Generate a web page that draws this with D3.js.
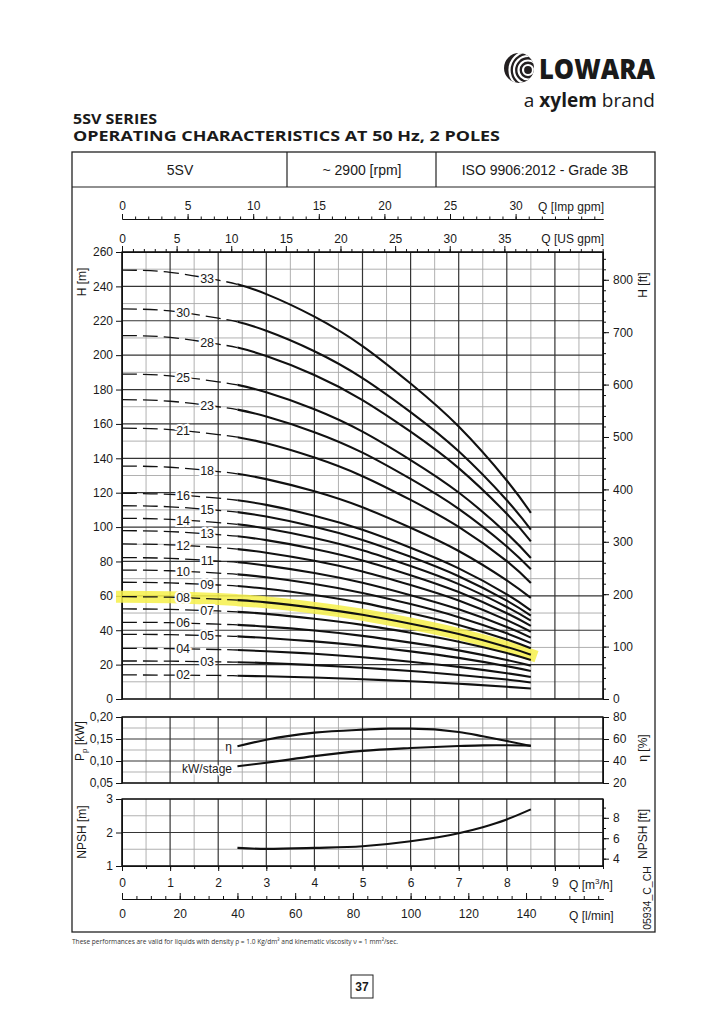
<!DOCTYPE html>
<html><head><meta charset="utf-8">
<script src="https://cdn.jsdelivr.net/npm/d3@7"></script>
<style>
body{margin:0;background:#fff}
svg text{font-family:"Liberation Sans",Arial,Helvetica,sans-serif;fill:#1a1a1a}
</style>
</head><body>
<svg id="c" width="724" height="1024"></svg>
<script>
// ---------------- DATA ----------------
const qPoints = [0, 1, 2, 2.4, 3, 4, 5, 6, 7, 8, 8.5];           // Q [m3/h]
const solidFromQ = 2.4;                                            // dashed below, solid above
const stageLabels = ["33","30","28","25","23","21","18","16","15","14","13","12","11","10","09","08","07","06","05","04","03","02"];
const headValues = [
  [249.5, 248.2, 243.6, 241.2, 235.5, 222.4, 205.3, 183.5, 158.5, 127.1, 108.3],
  [226.9, 225.7, 221.5, 219.4, 214.2, 202.3, 186.7, 166.9, 144.1, 115.6, 98.5],
  [211.4, 210.3, 206.4, 204.4, 199.5, 188.5, 173.9, 155.5, 134.3, 107.7, 91.7],
  [189.0, 188.0, 184.5, 182.7, 178.4, 168.5, 155.5, 139.0, 120.1, 96.3, 82.0],
  [174.1, 173.2, 170.0, 168.3, 164.3, 155.2, 143.3, 128.0, 110.6, 88.7, 75.5],
  [157.5, 156.7, 153.8, 152.3, 148.7, 140.4, 129.6, 115.8, 100.1, 80.2, 67.5],
  [135.5, 134.8, 132.3, 131.0, 127.9, 120.8, 111.5, 99.6, 86.1, 69.0, 58.8],
  [119.6, 119.0, 116.8, 115.6, 112.9, 106.6, 98.4, 88.0, 76.0, 60.9, 51.5],
  [112.4, 111.8, 109.7, 108.7, 106.1, 100.2, 92.5, 82.7, 71.4, 57.2, 48.5],
  [105.1, 104.5, 102.6, 101.6, 99.2, 93.7, 86.5, 77.3, 66.8, 53.5, 45.6],
  [97.9, 97.4, 95.6, 94.7, 92.4, 87.3, 80.6, 72.0, 62.2, 49.9, 42.5],
  [90.2, 89.7, 88.1, 87.2, 85.1, 80.4, 74.2, 66.3, 57.3, 45.9, 39.1],
  [82.2, 81.8, 80.2, 79.5, 77.6, 73.3, 67.6, 60.4, 52.2, 41.9, 35.7],
  [75.0, 74.6, 73.2, 72.5, 70.8, 66.9, 61.7, 55.2, 47.6, 38.2, 32.5],
  [67.9, 67.5, 66.3, 65.7, 64.1, 60.5, 55.9, 49.9, 43.1, 34.6, 29.5],
  [59.5, 59.2, 58.1, 57.5, 56.2, 53.0, 49.0, 43.8, 37.8, 30.3, 25.8],
  [52.4, 52.1, 51.2, 50.7, 49.5, 46.7, 43.1, 38.5, 33.3, 26.7, 22.7],
  [44.6, 44.4, 43.5, 43.1, 42.1, 39.8, 36.7, 32.8, 28.3, 22.7, 19.4],
  [37.6, 37.4, 36.7, 36.4, 35.5, 33.5, 30.9, 27.7, 23.9, 19.1, 16.3],
  [29.5, 29.3, 28.8, 28.5, 27.8, 26.3, 24.3, 21.7, 18.7, 15.0, 12.8],
  [22.1, 22.0, 21.6, 21.4, 20.9, 19.7, 18.2, 16.3, 14.0, 11.3, 9.6],
  [14.0, 13.9, 13.7, 13.5, 13.2, 12.5, 11.5, 10.3, 8.9, 7.1, 6.1]
];
const highlightedStage = "08";

const effQ = [2.4, 3, 4, 5, 5.56, 6, 7, 7.5, 8, 8.5];
const effValues = [53.4, 59.4, 65.8, 68.5, 69.4, 69.4, 66.4, 62.5, 58.2, 53.7];   // eta [%]
const powQ = [2.4, 3, 4, 5, 6, 7, 7.5, 8, 8.5];
const powValues = [0.088, 0.096, 0.111, 0.123, 0.1295, 0.134, 0.1355, 0.1357, 0.135]; // kW/stage
const npshQ = [2.4, 3, 4, 5, 6, 7, 7.5, 8, 8.5];
const npshValues = [1.54, 1.51, 1.54, 1.59, 1.74, 1.98, 2.16, 2.39, 2.69];   // NPSH [m]

const hTicks = [0,20,40,60,80,100,120,140,160,180,200,220,240,260];
const ftTicks = [0,100,200,300,400,500,600,700,800];
const kwTicks = [0.05,0.10,0.15,0.20];
const etaTicks = [20,40,60,80];
const npshTicks = [1,2,3];
const npshFtTicks = [4,6,8];
const m3hTicks = [0,1,2,3,4,5,6,7,8,9];
const lminTicks = [0,20,40,60,80,100,120,140];
const impTicks = [0,5,10,15,20,25,30];
const usTicks = [0,5,10,15,20,25,30,35];

// ---------------- SCALES ----------------
const svg = d3.select("#c");
const X0 = 122, X1 = 603;
const x = d3.scaleLinear().domain([0,10]).range([X0,X1]);
const yH = d3.scaleLinear().domain([0,260]).range([699,252]);
const yFt = d3.scaleLinear().domain([0,260*3.28084]).range([699,252]);
const yKW = d3.scaleLinear().domain([0.05,0.20]).range([783,717]);
const yEta = d3.scaleLinear().domain([20,80]).range([783,717]);
const yN = d3.scaleLinear().domain([1,3]).range([866,799]);
const yNft = d3.scaleLinear().domain([3.28084, 3*3.28084]).range([866,799]);
const xImp = d3.scaleLinear().domain([0,10*3.66615]).range([X0,X1]);
const xUS = d3.scaleLinear().domain([0,10*4.40287]).range([X0,X1]);
const xL = d3.scaleLinear().domain([0,10*1000/60]).range([X0,X1]);

const FS = 12;
const intFmt = d3.format("d");

// ---------------- HEADER ----------------
const defs = svg.append("defs");
defs.append("clipPath").attr("id","logoclip").append("circle").attr("cx",519).attr("cy",68).attr("r",15);
defs.append("clipPath").attr("id","leftclip").append("rect").attr("x",0).attr("y",0).attr("width",x(solidFromQ)).attr("height",1024);
defs.append("clipPath").attr("id","rightclip").append("rect").attr("x",x(solidFromQ)).attr("y",0).attr("width",724-x(solidFromQ)).attr("height",1024);

svg.append("circle").attr("cx",519).attr("cy",68).attr("r",15).attr("fill","#231f20");
const lg = svg.append("g").attr("clip-path","url(#logoclip)");
[5,9.5,14,18.5].forEach(r=>{
  lg.append("circle").attr("cx",528).attr("cy",70).attr("r",r).attr("fill","none").attr("stroke","#fff").attr("stroke-width",2.2);
});
svg.append("text").attr("x",539).attr("y",79).attr("font-size",28).attr("font-weight",900)
  .style("font-family","'Open Sans','Liberation Sans',sans-serif").attr("textLength",116).attr("lengthAdjust","spacingAndGlyphs")
  .text("LOWARA");
const tb = svg.append("text").attr("x",655).attr("y",107).attr("text-anchor","end").attr("font-size",19)
  .style("font-family","'Open Sans','Liberation Sans',sans-serif");
tb.append("tspan").text("a ");
tb.append("tspan").attr("font-weight",700).text("xylem");
tb.append("tspan").text(" brand");

svg.append("text").attr("x",73).attr("y",124).attr("font-size",14.5).attr("font-weight",700)
  .style("font-family","'Open Sans','Liberation Sans',sans-serif").attr("textLength",84).attr("lengthAdjust","spacingAndGlyphs").text("5SV SERIES");
svg.append("text").attr("x",73).attr("y",141).attr("font-size",14.5).attr("font-weight",700)
  .style("font-family","'Open Sans','Liberation Sans',sans-serif").attr("textLength",427).attr("lengthAdjust","spacingAndGlyphs")
  .text("OPERATING CHARACTERISTICS AT 50 Hz, 2 POLES");

// frame
svg.append("rect").attr("x",72).attr("y",152).attr("width",583).attr("height",780).attr("fill","none").attr("stroke","#222").attr("stroke-width",1.3);
svg.append("line").attr("x1",72).attr("x2",655).attr("y1",187).attr("y2",187).attr("stroke","#222").attr("stroke-width",1.2);
[287,436].forEach(v=>svg.append("line").attr("x1",v).attr("x2",v).attr("y1",152).attr("y2",187).attr("stroke","#222").attr("stroke-width",1.2));
[["5SV",180],["~ 2900 [rpm]",362],["ISO 9906:2012 - Grade 3B",545]].forEach(d=>{
  svg.append("text").attr("x",d[1]).attr("y",175).attr("text-anchor","middle").attr("font-size",14).text(d[0]);
});

// ---------------- GRIDS ----------------
function grid(yScale, hVals, isMajor, top, bottom){
  const g = svg.append("g");
  const vq = d3.range(0,10.01,0.5);
  const all = [];
  vq.forEach(q=>all.push({t:"v",v:q,maj:Math.abs(q-Math.round(q))<1e-6}));
  hVals.forEach(h=>all.push({t:"h",v:h,maj:isMajor(h)}));
  all.sort((a,b)=>a.maj-b.maj);
  all.forEach(d=>{
    const l = g.append("line").attr("stroke",d.maj?"#353535":"#a8a8a8").attr("stroke-width",d.maj?1.2:0.9);
    if(d.t==="v") l.attr("x1",x(d.v)).attr("x2",x(d.v)).attr("y1",top).attr("y2",bottom);
    else l.attr("x1",X0).attr("x2",X1).attr("y1",yScale(d.v)).attr("y2",yScale(d.v));
  });
  g.append("rect").attr("x",X0).attr("y",top).attr("width",X1-X0).attr("height",bottom-top).attr("fill","none").attr("stroke","#111").attr("stroke-width",1.3);
}
grid(yH, d3.range(0,261,10), h=>h%20===0, 252, 699);
grid(yKW, d3.range(0.05,0.2001,0.025), v=>Math.abs(v*20-Math.round(v*20))<1e-6, 717, 783);
grid(yN, d3.range(1,3.001,0.5), v=>Math.abs(v-Math.round(v))<1e-6, 799, 866);

// ---------------- AXES ----------------
function styleAxis(g, fs){
  g.selectAll("text").attr("font-size",fs||FS).style("fill","#1a1a1a").style("font-family","'Liberation Sans',Arial,sans-serif");
  g.selectAll("line").attr("stroke","#111");
  g.select(".domain").attr("stroke","#111");
}
// main left
styleAxis(svg.append("g").attr("transform",`translate(${X0},0)`).call(d3.axisLeft(yH).tickValues(hTicks).tickSize(6).tickSizeOuter(0).tickPadding(3).tickFormat(intFmt)));
// main right
styleAxis(svg.append("g").attr("transform",`translate(${X1},0)`).call(d3.axisRight(yFt).tickValues(d3.range(0,853,20)).tickSize(3).tickSizeOuter(0).tickFormat("")));
styleAxis(svg.append("g").attr("transform",`translate(${X1},0)`).call(d3.axisRight(yFt).tickValues(ftTicks).tickSize(6).tickSizeOuter(0).tickPadding(4).tickFormat(intFmt)));
// power panel
const kwFmt = d=>d3.format(".2f")(d).replace(".",",");
styleAxis(svg.append("g").attr("transform",`translate(${X0},0)`).call(d3.axisLeft(yKW).tickValues(kwTicks).tickSize(6).tickSizeOuter(0).tickPadding(3).tickFormat(kwFmt)));
styleAxis(svg.append("g").attr("transform",`translate(${X1},0)`).call(d3.axisRight(yEta).tickValues(etaTicks).tickSize(6).tickSizeOuter(0).tickPadding(4).tickFormat(intFmt)));
// npsh panel
styleAxis(svg.append("g").attr("transform",`translate(${X0},0)`).call(d3.axisLeft(yN).tickValues(npshTicks).tickSize(6).tickSizeOuter(0).tickPadding(3).tickFormat(intFmt)));
styleAxis(svg.append("g").attr("transform",`translate(${X1},0)`).call(d3.axisRight(yNft).tickValues(d3.range(4,9.85,1)).tickSize(3).tickSizeOuter(0).tickFormat("")));
styleAxis(svg.append("g").attr("transform",`translate(${X1},0)`).call(d3.axisRight(yNft).tickValues(npshFtTicks).tickSize(6).tickSizeOuter(0).tickPadding(4).tickFormat(intFmt)));

// top imp gpm axis
const impY = 219;
styleAxis(svg.append("g").attr("transform",`translate(0,${impY})`).call(d3.axisTop(xImp).tickValues(d3.range(0,36.7,1)).tickSize(2.5).tickSizeOuter(0).tickFormat("")));
styleAxis(svg.append("g").attr("transform",`translate(0,${impY})`).call(d3.axisTop(xImp).tickValues(impTicks).tickSize(5).tickSizeOuter(0).tickPadding(4).tickFormat(intFmt)));
svg.append("text").attr("x",604).attr("y",211).attr("text-anchor","end").attr("font-size",FS).text("Q [Imp gpm]");
// top US gpm axis on plot top
styleAxis(svg.append("g").attr("transform",`translate(0,252)`).call(d3.axisTop(xUS).tickValues(d3.range(0,44.1,1)).tickSize(3).tickSizeOuter(0).tickFormat("")));
styleAxis(svg.append("g").attr("transform",`translate(0,252)`).call(d3.axisTop(xUS).tickValues(usTicks).tickSize(6).tickSizeOuter(0).tickPadding(3).tickFormat(intFmt)));
svg.append("text").attr("x",604).attr("y",243).attr("text-anchor","end").attr("font-size",FS).text("Q [US gpm]");

// bottom m3/h axis
styleAxis(svg.append("g").attr("transform",`translate(0,866)`).call(d3.axisBottom(x).tickValues(d3.range(0,10.01,0.5)).tickSize(3).tickSizeOuter(0).tickFormat("")));
styleAxis(svg.append("g").attr("transform",`translate(0,866)`).call(d3.axisBottom(x).tickValues(m3hTicks).tickSize(5).tickSizeOuter(0).tickPadding(7).tickFormat(intFmt)));
const qm = svg.append("text").attr("x",569).attr("y",889).attr("font-size",FS);
qm.append("tspan").text("Q [m");
qm.append("tspan").attr("dy",-5).attr("font-size",8).text("3");
qm.append("tspan").attr("dy",5).text("/h]");
// l/min axis
const lAxisY = 899;
styleAxis(svg.append("g").attr("transform",`translate(0,${lAxisY})`).call(d3.axisTop(xL).tickValues(d3.range(0,166.7,5)).tickSize(3).tickSizeOuter(0).tickFormat("")));
styleAxis(svg.append("g").attr("transform",`translate(0,${lAxisY})`).call(d3.axisBottom(xL).tickValues(lminTicks).tickSize(0).tickSizeOuter(0).tickPadding(10).tickFormat(intFmt)));
styleAxis(svg.append("g").attr("transform",`translate(0,${lAxisY})`).call(d3.axisTop(xL).tickValues(lminTicks).tickSize(6).tickSizeOuter(0).tickFormat("")));
svg.append("text").attr("x",569).attr("y",920).attr("font-size",FS).text("Q [l/min]");

// axis titles (rotated)
function vtext(t, cx, cy, fs){
  return svg.append("text").attr("transform",`translate(${cx},${cy}) rotate(-90)`).attr("text-anchor","middle").attr("font-size",fs||FS).text(t);
}
vtext("H [m]", 86, 282);
vtext("H [ft]", 647, 285);
const pp = svg.append("text").attr("transform",`translate(84,741) rotate(-90)`).attr("text-anchor","middle").attr("font-size",FS);
pp.append("tspan").text("P");
pp.append("tspan").attr("dy",3).attr("font-size",8).text("p");
pp.append("tspan").attr("dy",-3).text(" [kW]");
vtext("η [%]", 647, 748);
vtext("NPSH [m]", 86, 832);
vtext("NPSH [ft]", 647, 834);
vtext("05934_C_CH", 651, 898, 10.5);

// ---------------- HIGHLIGHT ----------------
const lineH = d3.line().x(d=>x(d[0])).y(d=>yH(d[1])).curve(d3.curveNatural);
const hiIdx = stageLabels.indexOf(highlightedStage);
svg.append("path").attr("d", lineH(qPoints.map((q,j)=>[q, headValues[hiIdx][j]])))
  .attr("fill","none").attr("stroke","#f6f04a").attr("stroke-width",12).attr("stroke-linecap","square").attr("opacity",0.85);

// ---------------- H-Q CURVES ----------------
const cg = svg.append("g");
stageLabels.forEach((lab,i)=>{
  const d = lineH(qPoints.map((q,j)=>[q, headValues[i][j]]));
  cg.append("path").attr("d", d).attr("clip-path","url(#leftclip)").attr("fill","none").attr("stroke","#111")
    .attr("stroke-width",1.3).attr("stroke-dasharray","15,6");
  cg.append("path").attr("d", d).attr("clip-path","url(#rightclip)").attr("fill","none").attr("stroke","#111")
    .attr("stroke-width",2.1).attr("stroke-linejoin","round");
});
stageLabels.forEach((lab,i)=>{
  const lq = i%2===0 ? 1.77 : 1.27;
  const hv = d3.scaleLinear().domain(qPoints).range(headValues[i])(lq);
  cg.append("text").attr("x",x(lq)).attr("y",yH(hv)+4.3).attr("text-anchor","middle").attr("font-size",12.5)
    .attr("stroke","#fff").attr("stroke-width",4).attr("paint-order","stroke").text(lab);
});

// ---------------- POWER / EFFICIENCY ----------------
const lineEta = d3.line().x((d,i)=>x(effQ[i])).y(d=>yEta(d)).curve(d3.curveMonotoneX);
const linePow = d3.line().x((d,i)=>x(powQ[i])).y(d=>yKW(d)).curve(d3.curveMonotoneX);
svg.append("path").attr("d",lineEta(effValues)).attr("fill","none").attr("stroke","#111").attr("stroke-width",2.1);
svg.append("path").attr("d",linePow(powValues)).attr("fill","none").attr("stroke","#111").attr("stroke-width",2.1);
svg.append("text").attr("x",232).attr("y",751).attr("text-anchor","end").attr("font-size",FS)
  .attr("stroke","#fff").attr("stroke-width",3).attr("paint-order","stroke").text("η");
svg.append("text").attr("x",232).attr("y",773).attr("text-anchor","end").attr("font-size",FS)
  .attr("stroke","#fff").attr("stroke-width",3).attr("paint-order","stroke").text("kW/stage");

// ---------------- NPSH ----------------
const lineN = d3.line().x((d,i)=>x(npshQ[i])).y(d=>yN(d)).curve(d3.curveMonotoneX);
svg.append("path").attr("d",lineN(npshValues)).attr("fill","none").attr("stroke","#111").attr("stroke-width",2.1);

// ---------------- FOOTER ----------------
svg.append("text").attr("x",72).attr("y",944).attr("font-size",7).style("fill","#333")
  .style("font-family","'Open Sans','Liberation Sans',sans-serif").attr("textLength",326).attr("lengthAdjust","spacingAndGlyphs")
  .text("These performances are valid for liquids with density ρ = 1.0 Kg/dm³ and kinematic viscosity ν = 1 mm²/sec.");
svg.append("rect").attr("x",351).attr("y",975).attr("width",22).attr("height",23).attr("fill","none").attr("stroke","#222").attr("stroke-width",1);
svg.append("text").attr("x",362).attr("y",991).attr("text-anchor","middle").attr("font-size",12).attr("font-weight",700).text("37");
</script>
</body></html>
